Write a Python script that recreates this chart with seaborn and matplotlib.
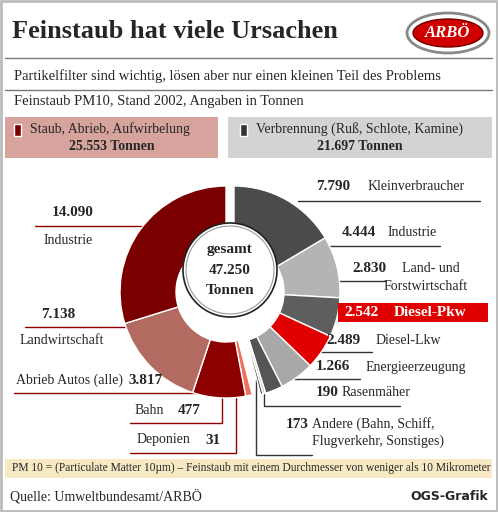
import matplotlib.pyplot as plt
import matplotlib.patches as mpatches
import seaborn as sns

sns.set_style("white")
plt.rcParams['font.family'] = ['Liberation Serif', 'DejaVu Serif']

# data (Tonnen), clockwise from top
right_labels = ['Kleinverbraucher', 'Industrie', 'Land- und Forstwirtschaft', 'Diesel-Pkw',
                'Diesel-Lkw', 'Energieerzeugung', 'Rasenmäher', 'Andere']
right_values = [7790, 4444, 2830, 2542, 2489, 1266, 190, 173]
right_colors = ['#4b4b4b', '#b4b4b4', '#5e5e5e', '#e00000', '#a8a8a8', '#555555', '#c8c8c8', '#333333']
left_labels = ['Deponien', 'Bahn', 'Abrieb Autos (alle)', 'Landwirtschaft', 'Industrie']
left_values = [31, 477, 3817, 7138, 14090]
left_colors = ['#f4c0b8', '#f07060', '#8c0000', '#b36a60', '#7a0000']

W, H = 498, 512
fig = plt.figure(figsize=(W / 100, H / 100), dpi=100)
ax = fig.add_axes([0, 0, 1, 1])

def Y(y):
    return H - y

def txt(x, y, s, **kw):
    kw.setdefault('fontsize', 10)
    kw.setdefault('va', 'center')
    ax.text(x, Y(y), s, **kw)

def line(xs, ys, c):
    ax.plot(xs, [Y(v) for v in ys], color=c, lw=1, zorder=0.5)

# donut
values = right_values + left_values
colors = right_colors + left_colors
cx, cy, R = 232, 292, 106
wedges, _ = ax.pie(values, colors=colors, startangle=90, counterclock=False,
                   center=(cx, Y(cy)), radius=R, frame=True,
                   wedgeprops=dict(width=56, edgecolor='white', linewidth=1))
for w in wedges[len(right_values):]:
    w.set_center((cx - 6, Y(cy)))
for w in wedges[:len(right_values)]:
    w.set_center((cx + 2, Y(cy)))
ax.set_xlim(0, W)
ax.set_ylim(0, H)
ax.set_aspect('auto')
ax.axis('off')
ax.add_patch(mpatches.Circle((cx - 2, Y(cy - 22)), 47, fc='white', ec='#222222', lw=1.2, zorder=3))
ax.add_patch(mpatches.Circle((cx - 2, Y(cy - 22)), 44, fc='white', ec='#999999', lw=0.8, zorder=3))
for yy, s in [(249, 'gesamt'), (270, '47.250'), (291, 'Tonnen')]:
    ax.text(cx - 2, Y(yy), s, fontweight='bold', ha='center', va='center', fontsize=11, zorder=4)

# header
txt(12, 32, 'Feinstaub hat viele Ursachen', fontsize=19, fontweight='bold')
ax.add_patch(mpatches.Ellipse((448, Y(33)), 82, 40, fc='white', ec='#888888', lw=2))
ax.add_patch(mpatches.Ellipse((448, Y(33)), 70, 28, fc='#d00000', ec='#700000', lw=1))
txt(448, 33, 'ARBÖ', fontsize=12, fontweight='bold', color='white', ha='center', style='italic')
line([5, 492], [58, 58], '#777777')
txt(14, 76, 'Partikelfilter sind wichtig, lösen aber nur einen kleinen Teil des Problems', fontsize=10.5)
line([5, 492], [90, 90], '#777777')
txt(14, 102, 'Feinstaub PM10, Stand 2002, Angaben in Tonnen', fontsize=10.5)

# group boxes
ax.add_patch(mpatches.Rectangle((5, Y(158)), 213, 41, fc='#d6a49c', ec='none'))
ax.add_patch(mpatches.Rectangle((228, Y(158)), 264, 41, fc='#d3d3d3', ec='none'))
ax.add_patch(mpatches.Rectangle((14, Y(136)), 7, 12, fc='#7a0000'))
ax.add_patch(mpatches.Rectangle((240, Y(136)), 7, 12, fc='#333333'))
txt(30, 129, 'Staub, Abrieb, Aufwirbelung')
txt(112, 147, '25.553 Tonnen', fontweight='bold', ha='center')
txt(256, 129, 'Verbrennung (Ruß, Schlote, Kamine)')
txt(360, 147, '21.697 Tonnen', fontweight='bold', ha='center')

red, gray = '#8c0000', '#333333'
# left labels
txt(73, 213, '14.090', fontweight='bold', ha='center', fontsize=11)
txt(68, 240, 'Industrie', ha='center')
line([35, 155], [226, 226], red)
txt(58, 314, '7.138', fontweight='bold', ha='center', fontsize=11)
txt(62, 340, 'Landwirtschaft', ha='center')
line([25, 170], [327, 327], red)
txt(16, 380, 'Abrieb Autos (alle)')
txt(128, 380, '3.817', fontweight='bold', fontsize=11)
line([14, 205, 205], [393, 393, 375], red)
txt(135, 410, 'Bahn')
txt(178, 410, '477', fontweight='bold', fontsize=11)
line([130, 222, 222], [423, 423, 380], red)
txt(137, 440, 'Deponien')
txt(205, 440, '31', fontweight='bold', fontsize=11)
line([130, 236, 236], [453, 453, 383], red)

# right labels
txt(316, 187, '7.790', fontweight='bold', fontsize=11)
txt(368, 187, 'Kleinverbraucher')
line([298, 480], [201, 201], gray)
txt(342, 232, '4.444', fontweight='bold', fontsize=11)
txt(388, 232, 'Industrie')
line([322, 440], [246, 246], gray)
txt(352, 268, '2.830', fontweight='bold', fontsize=11)
txt(402, 268, 'Land- und')
txt(384, 287, 'Forstwirtschaft')
line([322, 385], [281, 281], gray)
ax.add_patch(mpatches.Rectangle((338, Y(322)), 150, 19, fc='#e00000', ec='none'))
line([322, 338], [312, 312], '#e00000')
txt(344, 312, '2.542', fontweight='bold', color='white', fontsize=11)
txt(394, 312, 'Diesel-Pkw', fontweight='bold', color='white', fontsize=11)
txt(326, 340, '2.489', fontweight='bold', fontsize=11)
txt(376, 340, 'Diesel-Lkw')
line([298, 372], [352, 352], gray)
txt(316, 367, '1.266', fontweight='bold', fontsize=11)
txt(366, 367, 'Energieerzeugung')
line([280, 360], [379, 379], gray)
txt(316, 393, '190', fontweight='bold', fontsize=11)
txt(342, 393, 'Rasenmäher')
line([264, 264, 400], [378, 406, 406], gray)
txt(286, 424, '173', fontweight='bold', fontsize=11)
txt(312, 424, 'Andere (Bahn, Schiff,')
txt(312, 441, 'Flugverkehr, Sonstiges)')
line([256, 256, 312], [380, 455, 455], gray)

# footer
ax.add_patch(mpatches.Rectangle((5, Y(478)), 487, 19, fc='#f6e9c4', ec='none'))
txt(12, 468, 'PM 10 = (Particulate Matter 10µm) – Feinstaub mit einem Durchmesser von weniger als 10 Mikrometer',
    fontsize=8.3)
txt(10, 496, 'Quelle: Umweltbundesamt/ARBÖ', fontsize=10)
ax.text(488, Y(497), 'OGS-Grafik', fontsize=9, fontweight='bold', ha='right', va='center',
        family='DejaVu Sans')
ax.add_patch(mpatches.Rectangle((1, 1), W - 2, H - 2, fill=False, ec='#bbbbbb', lw=2))

fig.savefig('out.png', dpi=100)
